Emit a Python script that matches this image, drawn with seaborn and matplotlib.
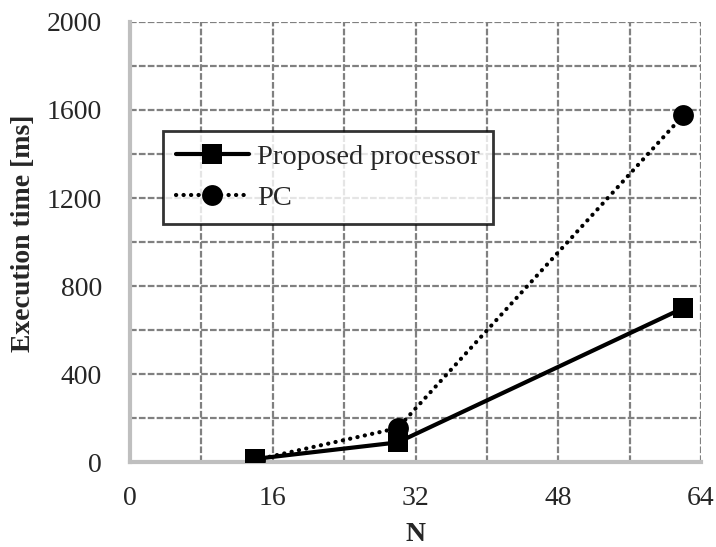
import numpy as np
import pandas as pd
import matplotlib
matplotlib.use('Agg')
import matplotlib.pyplot as plt
import seaborn as sns
from matplotlib.ticker import MultipleLocator

n_values = [14, 30, 62]
proposed_ms = [15, 90, 700]
pc_ms = [10, 155, 1575]

x_ticks = [0, 16, 32, 48, 64]
y_ticks = [0, 400, 800, 1200, 1600, 2000]

sns.set_style('white')
plt.rcParams['font.family'] = ['Liberation Serif', 'DejaVu Serif']

df_prop = pd.DataFrame({'N': n_values, 'time': proposed_ms})
df_pc = pd.DataFrame({'N': n_values, 'time': pc_ms})

fig = plt.figure(figsize=(7.16, 5.47), dpi=100)
ax = fig.add_axes([0.1816, 0.155, 0.7975, 0.805])

# PC drawn first so the square sits on top of the circle
sns.lineplot(data=df_pc, x='N', y='time', ax=ax, color='black', linewidth=3,
             marker='o', markersize=15, markeredgewidth=0, label='PC', zorder=3)
sns.lineplot(data=df_prop, x='N', y='time', ax=ax, color='black', linewidth=3,
             marker='s', markersize=15, markeredgewidth=0,
             label='Proposed processor', zorder=4)

pc_line, prop_line = ax.get_lines()[0], ax.get_lines()[1]
pc_line.set_linestyle((0, (0.05, 1.75)))
pc_line.set_dash_capstyle('round')
prop_line.set_solid_capstyle('round')

ax.set_xlim(0, 64)
ax.set_ylim(0, 2000)
ax.set_xticks(x_ticks)
ax.set_yticks(y_ticks)
ax.xaxis.set_minor_locator(MultipleLocator(8))
ax.yaxis.set_minor_locator(MultipleLocator(200))
ax.grid(True, which='both', color='#808080', linestyle=(0, (3, 1)), linewidth=1.6)
ax.set_axisbelow(True)
ax.tick_params(axis='both', which='both', length=0, labelsize=20)
ax.tick_params(axis='x', pad=17)
ax.tick_params(axis='y', pad=20)

for side in ['top', 'right']:
    ax.spines[side].set_visible(False)
for side in ['left', 'bottom']:
    ax.spines[side].set_color('#bfbfbf')
    ax.spines[side].set_linewidth(3)
    ax.spines[side].set_zorder(2.5)

ax.set_xlabel('N', fontsize=20, fontweight='bold')
ax.set_ylabel('Execution time [ms]', fontsize=20, fontweight='bold')
ax.xaxis.set_label_coords(0.5, -0.135)
ax.yaxis.set_label_coords(-0.165, 0.52)

handles, labels = ax.get_legend_handles_labels()
for h in handles:
    h.set_dash_capstyle('round')
    h.set_solid_capstyle('round')
leg = ax.legend(handles[::-1], labels[::-1], loc='upper left',
                bbox_to_anchor=(0.058, 0.752), borderaxespad=0, fontsize=20.5,
                frameon=True, fancybox=False, edgecolor='black',
                handlelength=2.55, handletextpad=0.3, borderpad=0.45,
                labelspacing=0.55)
leg.get_frame().set_linewidth(2)

fig.savefig('out.png', dpi=100)
